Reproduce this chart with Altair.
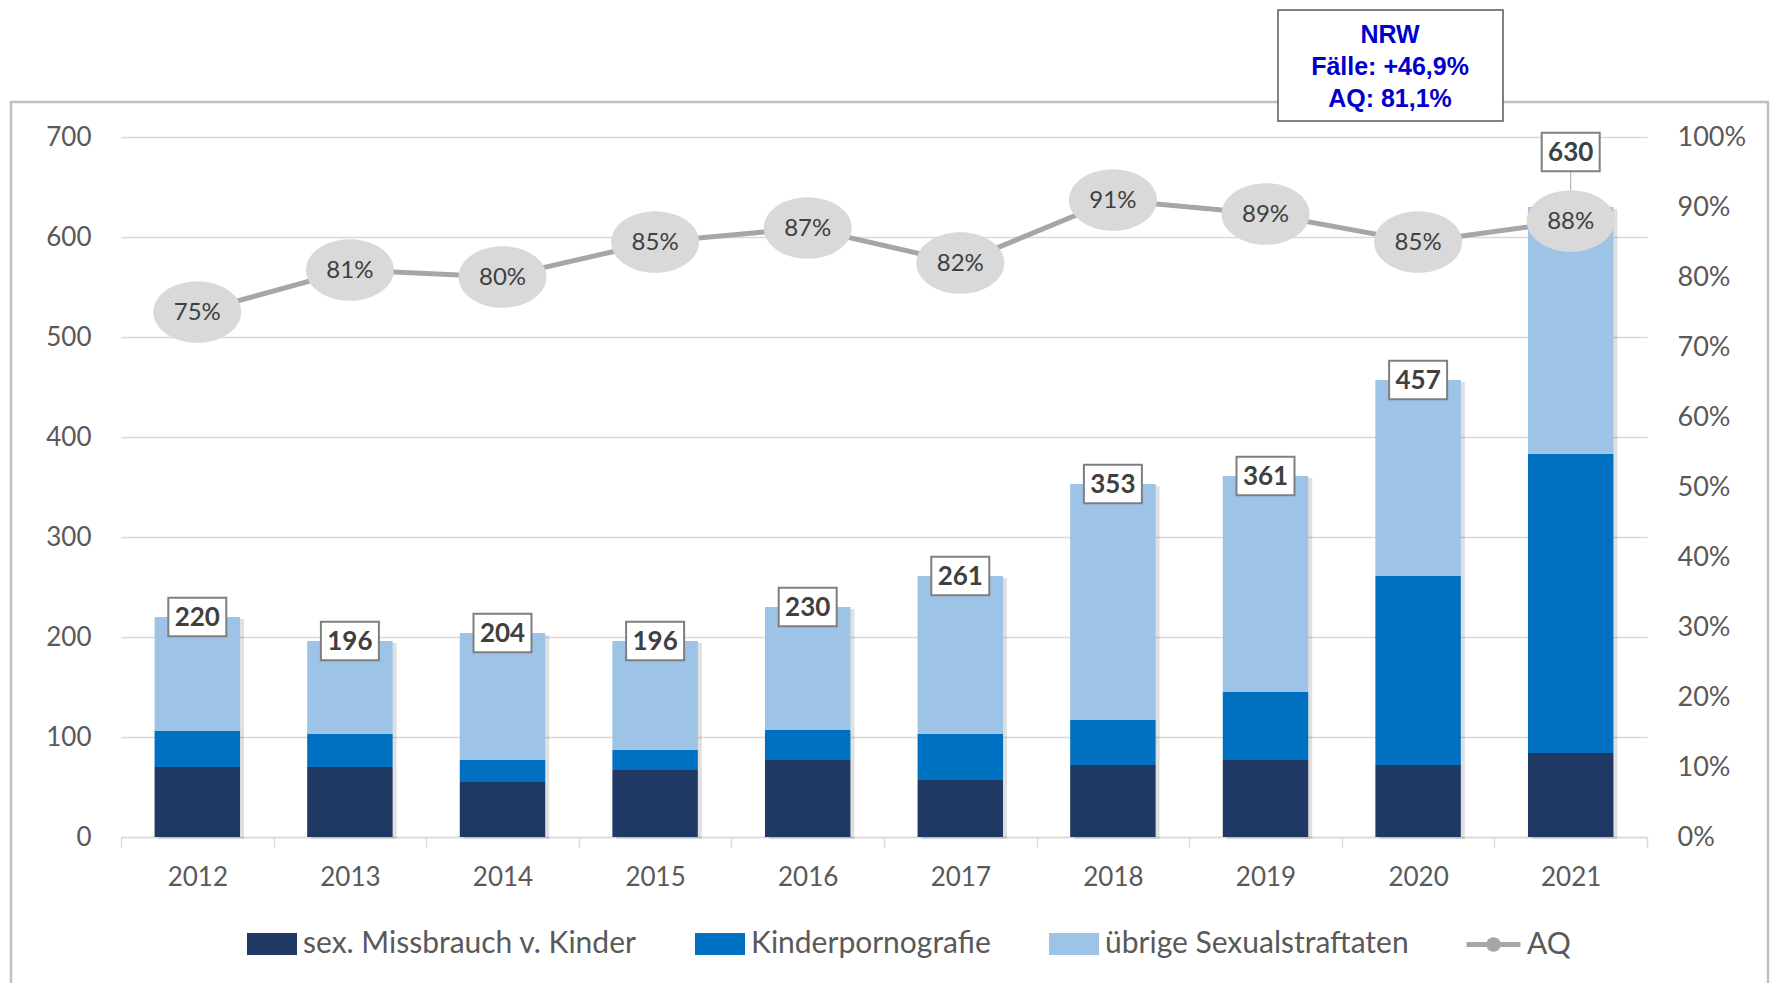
import altair as alt
import pandas as pd

years = ["2012", "2013", "2014", "2015", "2016", "2017", "2018", "2019", "2020", "2021"]
missbrauch = [70, 70, 55, 67, 77, 57, 72, 77, 72, 84]
kinderporno = [36, 33, 22, 20, 30, 46, 45, 68, 189, 299]
uebrige = [114, 93, 127, 109, 123, 158, 236, 216, 196, 247]
aq = [0.75, 0.81, 0.80, 0.85, 0.87, 0.82, 0.91, 0.89, 0.85, 0.88]

series_names = ["sex. Missbrauch v. Kinder", "Kinderpornografie", "übrige Sexualstraftaten"]
series_colors = ["#203864", "#0070c0", "#9dc3e6"]
left_ticks = [0, 100, 200, 300, 400, 500, 600, 700]
right_ticks = [0, 0.1, 0.2, 0.3, 0.4, 0.5, 0.6, 0.7, 0.8, 0.9, 1.0]
nrw_lines = ["NRW", "Fälle: +46,9%", "AQ: 81,1%"]

totals = [a + b + c for a, b, c in zip(missbrauch, kinderporno, uebrige)]

rows = []
for i, y in enumerate(years):
    for k, (name, vals) in enumerate(zip(series_names, [missbrauch, kinderporno, uebrige])):
        rows.append({"year": y, "series": name, "value": vals[i], "order": k})
df_long = pd.DataFrame(rows)
df_wide = pd.DataFrame({"year": years, "total": totals, "aq": aq, "aqname": ["AQ"] * len(years)})
df_one = pd.DataFrame({"a": [0]})

FONT = "Lato"
W, H = 1526, 700

x_axis = alt.Axis(title=None, tickBand="extent", ticks=True, tickSize=10, tickColor="#d9d9d9",
                  tickWidth=1.5, domainColor="#d9d9d9", domainWidth=1.5, labelFont=FONT,
                  labelFontSize=26, labelColor="#595959", labelPadding=17, labelAngle=0, grid=False)
x_scale = alt.Scale(paddingInner=0, paddingOuter=0)


def X():
    return alt.X("year:N", sort=years, scale=x_scale, axis=x_axis)


left_axis = alt.Axis(title=None, values=left_ticks, grid=True, gridColor="#d9d9d9", gridWidth=1.5,
                     domain=False, ticks=False, labelFont=FONT, labelFontSize=26,
                     labelColor="#595959", labelPadding=30)
right_axis = alt.Axis(orient="right", title=None, values=right_ticks, format=".0%", grid=False,
                      domain=False, ticks=False, labelFont=FONT, labelFontSize=27,
                      labelColor="#595959", labelPadding=30)
y_left_scale = alt.Scale(domain=[0, 700])
y_right_scale = alt.Scale(domain=[0, 1])


def YL(field, **kw):
    return alt.Y(field, scale=y_left_scale, axis=left_axis, **kw)


def YR(field):
    return alt.Y(field, scale=y_right_scale, axis=right_axis)


border = alt.Chart(df_one).mark_rect(fillOpacity=0, stroke="#bfbfbf", strokeWidth=2.5).encode(
    x=alt.value(-110), x2=alt.value(1647), y=alt.value(-35), y2=alt.value(880)
)

shadow = alt.Chart(df_wide).mark_bar(
    width=alt.RelativeBandSize(0.56), xOffset=4, yOffset=2, color="#000000", opacity=0.12
).encode(x=X(), y=YL("total:Q"))

bars = alt.Chart(df_long).mark_bar(width=alt.RelativeBandSize(0.56)).encode(
    x=X(),
    y=YL("value:Q", stack="zero"),
    color=alt.Color("series:N", scale=alt.Scale(domain=series_names, range=series_colors),
                    legend=alt.Legend(title=None, orient="none", direction="horizontal",
                                      legendX=126, legendY=782, labelFont=FONT, labelFontSize=30,
                                      labelColor="#595959", symbolType="M -1 -0.44 L 1 -0.44 L 1 0.44 L -1 0.44 Z",
                                      symbolSize=2500, symbolStrokeWidth=0, labelOffset=6,
                                      columnPadding=58, padding=0, labelLimit=500)),
    order=alt.Order("order:Q"),
)

box_shape = "M -1 -0.66 L 1 -0.66 L 1 0.66 L -1 0.66 Z"
lab_base = alt.Chart(df_wide).encode(x=X(), y=YL("total:Q"))
boxes = lab_base.transform_filter("datum.year != '2021'").mark_point(
    shape=box_shape, size=3364, filled=True, fill="white", stroke="#7f7f7f", strokeWidth=2, opacity=1
)
texts = lab_base.transform_filter("datum.year != '2021'").mark_text(
    font=FONT, fontSize=26, fontWeight="bold", color="#404040", baseline="middle", dy=1
).encode(text=alt.Text("total:Q"))
leader = lab_base.transform_filter("datum.year == '2021'").mark_rule(
    color="#a6a6a6", strokeWidth=1, yOffset=-35, y2Offset=-16
).encode(y2=alt.Y2("total:Q"))
boxes21 = lab_base.transform_filter("datum.year == '2021'").mark_point(
    shape=box_shape, size=3364, filled=True, fill="white", stroke="#7f7f7f", strokeWidth=2, opacity=1,
    yOffset=-55
)
texts21 = lab_base.transform_filter("datum.year == '2021'").mark_text(
    font=FONT, fontSize=26, fontWeight="bold", color="#404040", baseline="middle", dy=1, yOffset=-55
).encode(text=alt.Text("total:Q"))

nrw_box = alt.Chart(df_one).mark_rect(fill="white", stroke="#595959", strokeWidth=1.5).encode(
    x=alt.value(1157), x2=alt.value(1382), y=alt.value(-127), y2=alt.value(-16)
)
nrw_text = alt.Chart(df_one).mark_text(
    text=nrw_lines, font="Liberation Sans", fontSize=25, fontWeight="bold", color="#0000cc",
    lineHeight=32, baseline="middle", align="center"
).encode(x=alt.value(1269), y=alt.value(-102))

left = alt.layer(border, shadow, bars, boxes, texts, leader, boxes21, texts21, nrw_box, nrw_text)

line = alt.Chart(df_wide).mark_line(strokeWidth=5).encode(
    x=X(),
    y=YR("aq:Q"),
    color=alt.Color("aqname:N", scale=alt.Scale(domain=["AQ"], range=["#a6a6a6"]),
                    legend=alt.Legend(title=None, orient="none", legendX=1343, legendY=778,
                                      labelFont=FONT, labelFontSize=30, labelColor="#595959",
                                      symbolType="M -1 0 L 1 0 M 0.18 0 A 0.18 0.18 0 1 1 -0.18 0 A 0.18 0.18 0 1 1 0.18 0",
                                      symbolSize=2916, symbolStrokeWidth=5, symbolFillColor="#a6a6a6",
                                      labelOffset=4, padding=0)),
)
ellipse_shape = "M -1 0 A 1 0.7 0 1 0 1 0 A 1 0.7 0 1 0 -1 0 Z"
ell = alt.Chart(df_wide).mark_point(
    shape=ellipse_shape, size=7744, filled=True, fill="#d9d9d9", opacity=1, strokeWidth=0
).encode(x=X(), y=YR("aq:Q"))
aqtext = alt.Chart(df_wide).mark_text(
    font=FONT, fontSize=24, color="#404040", baseline="middle", dy=1
).encode(x=X(), y=YR("aq:Q"), text=alt.Text("aq:Q", format=".0%"))

right = alt.layer(line, ell, aqtext)

chart = alt.layer(left, right).resolve_scale(y="independent", color="independent").properties(
    width=W, height=H,
    autosize=alt.AutoSizeParams(type="none"),
    padding={"left": 113, "top": 129, "right": 124, "bottom": 146},
    background="white",
).configure_view(stroke=None)

chart.save("out.html", embed_options={"renderer": "svg", "actions": False})
